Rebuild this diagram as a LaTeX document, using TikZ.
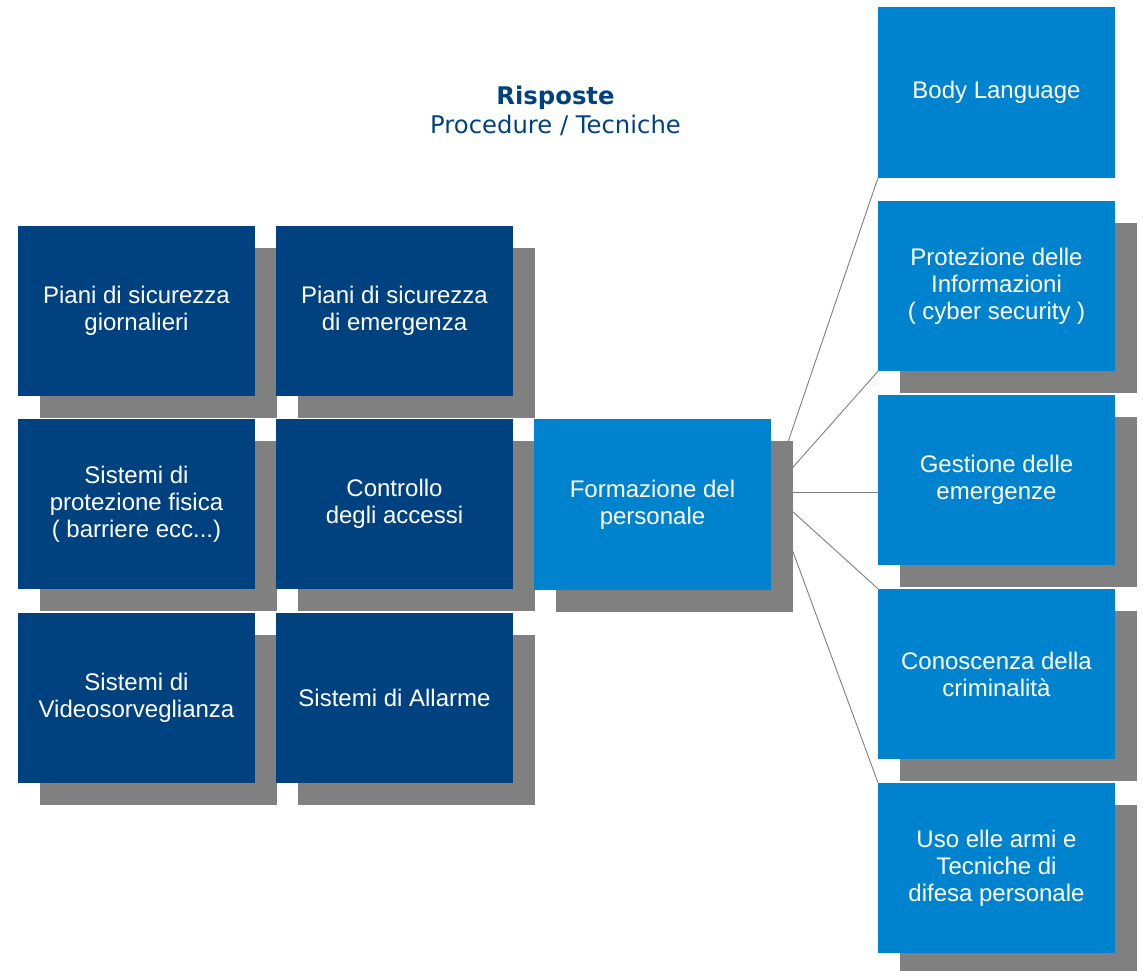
\documentclass[tikz,border=0pt]{standalone}
\usepackage{fontspec}
\setmainfont{Liberation Sans}
\newfontfamily\titlefont{DejaVu Sans}
\pgfdeclarelayer{bg}
\pgfdeclarelayer{shd}
\pgfsetlayers{bg,shd,main}
\definecolor{darkbox}{HTML}{00427F}
\definecolor{lightbox}{HTML}{0083CF}
\definecolor{shadowgrey}{HTML}{808080}
\definecolor{linegrey}{HTML}{7F7F7F}
\tikzset{
  box/.style={minimum width=237pt, minimum height=170.5pt, inner sep=0pt, outer sep=0pt,
    text=white, align=center, font=\fontsize{24}{27}\selectfont},
  darkb/.style={box, fill=darkbox},
  lightb/.style={box, fill=lightbox},
  conn/.style={draw=linegrey, line width=0.9pt},
  shadowbox/.style={fill=shadowgrey},
  titletxt/.style={text=darkbox, inner sep=0pt, anchor=base}
}
\begin{document}
\begin{tikzpicture}[x=1pt,y=-1pt]
\useasboundingbox (0,0) rectangle (1143,971);
% title
\node[titletxt, font=\titlefont\bfseries\fontsize{24.3}{29}\selectfont] (t1) at (555.5,105) {Risposte};
\node[titletxt, font=\titlefont\fontsize{24.3}{29}\selectfont] (t2) at (555.5,134) {Procedure / Tecniche};
% left grid
\node[darkb] (p1) at (136.5,311) {Piani di sicurezza\\giornalieri};
\node[darkb] (p2) at (394.5,311) {Piani di sicurezza\\di emergenza};
\node[darkb] (s1) at (136.5,504) {Sistemi di\\protezione fisica\\( barriere ecc...)};
\node[darkb] (ca) at (394.5,504) {Controllo\\degli accessi};
\node[darkb] (sv) at (136.5,698) {Sistemi di\\Videosorveglianza};
\node[darkb] (sa) at (394.5,698) {Sistemi di Allarme};
% centre
\node[lightb] (form) at (652.5,504.5) {Formazione del\\personale};
% right column
\node[lightb] (body) at (996.5,92.5) {Body Language};
\node[lightb] (prot) at (996.5,286) {Protezione delle\\Informazioni\\( cyber security )};
\node[lightb] (gest) at (996.5,480) {Gestione delle\\emergenze};
\node[lightb] (cono) at (996.5,674) {Conoscenza della\\criminalità};
\node[lightb] (uso) at (996.5,868) {Uso elle armi e\\Tecniche di\\difesa personale};
% shadows
\begin{pgfonlayer}{shd}
\foreach \n in {p1,p2,s1,ca,sv,sa,form,prot,gest,cono,uso}
  \fill[shadowbox] ([xshift=22pt,yshift=-22pt]\n.south west) rectangle ([xshift=22pt,yshift=-22pt]\n.north east);
\end{pgfonlayer}
% connectors
\coordinate (o) at ([yshift=12.5pt]form.east);
\begin{pgfonlayer}{bg}
\draw[conn] (o) -- (body.south west);
\draw[conn] (o) -- (prot.south west);
\draw[conn] (o) -- (o -| gest.west);
\draw[conn] (o) -- (cono.north west);
\draw[conn] (o) -- (uso.north west);
\end{pgfonlayer}
\end{tikzpicture}
\end{document}
